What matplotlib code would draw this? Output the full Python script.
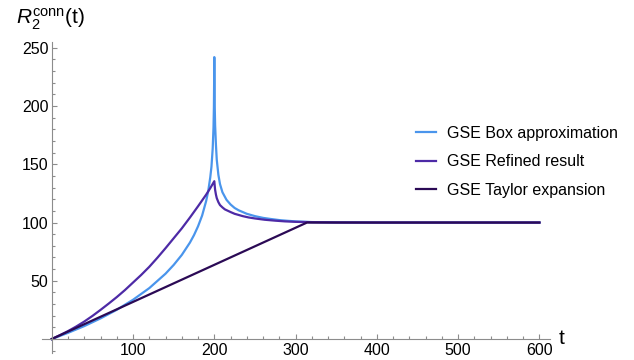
import matplotlib
matplotlib.use("Agg")
import matplotlib.pyplot as plt
from matplotlib.ticker import MultipleLocator

plt.rcParams['font.family'] = ['Liberation Sans', 'DejaVu Sans']
plt.rcParams['mathtext.fontset'] = 'custom'
plt.rcParams['mathtext.rm'] = 'Liberation Sans'
plt.rcParams['mathtext.it'] = 'Liberation Sans:italic'

# values
box_t = [0, 20, 40, 60, 80, 100, 120, 140, 150, 160, 170, 175, 180, 185, 190,
         192.5, 195, 196.5, 198, 199, 199.5, 199.8, 199.91,
         200.09, 200.2, 200.5, 201, 202, 203, 205, 207, 210, 215, 220, 225,
         230, 240, 250, 260, 270, 280, 290, 300, 320, 350, 400, 600]
box_r = [0, 5.3, 11.1, 17.7, 25.1, 33.7, 43.7, 56.1, 63.6, 72.2, 82.8, 89.2,
         96.8, 106, 118.6, 127, 138.7, 148, 163.5, 181.5, 199, 222.5, 242,
         242, 222.9, 200.3, 183.4, 166.8, 154, 141, 133, 126, 119.5, 115.5,
         112.5, 110.5, 107.5, 105.5, 104, 103, 102.1, 101.5, 101, 100.4,
         100.1, 100, 100]

ref_t = [0, 10, 20, 30, 40, 50, 60, 70, 80, 90, 100, 110, 120, 130, 140, 150,
         160, 170, 180, 185, 190, 195, 200, 200.5, 201, 202, 203, 205, 207,
         210, 213, 220, 225, 235, 242, 250, 262, 275, 287, 300, 320, 350, 400,
         600]
ref_r = [0, 3.3, 6.8, 10.7, 15, 19.8, 25, 30.4, 36, 42, 48.5, 55, 62, 69.8,
         78, 86.5, 95, 104.3, 114, 119, 124, 129.5, 135.5, 131.5, 128, 124,
         121, 117.5, 115, 113, 111.3, 109, 107.5, 105.5, 104.4, 103.5, 102.4,
         101.6, 101, 100.6, 100.3, 100.1, 100, 100]

tay_t = [0, 314, 600]
tay_r = [0, 100, 100]

labels = ['GSE Box approximation', 'GSE Refined result', 'GSE Taylor expansion']
colors = ['#4a95ec', '#4d2aa6', '#2b0a55']

fig = plt.figure(figsize=(6.34, 3.6), dpi=100)
ax = fig.add_axes([42 / 634, 7 / 360, 508 / 634, 311 / 360])

ax.plot(box_t, box_r, color=colors[0], lw=1.6, label=labels[0])
ax.plot(ref_t, ref_r, color=colors[1], lw=1.6, label=labels[1])
ax.plot(tay_t, tay_r, color=colors[2], lw=1.6, label=labels[2])

ax.set_xlim(-12, 613)
ax.set_ylim(-12, 255)

# axes crossing at the origin, Mathematica style
for side in ['top', 'right']:
    ax.spines[side].set_visible(False)
for side in ['left', 'bottom']:
    ax.spines[side].set_position(('data', 0))
    ax.spines[side].set_color('#8c8c8c')
    ax.spines[side].set_linewidth(0.8)
ax.spines['left'].set_bounds(-12, 255)
ax.spines['bottom'].set_bounds(-12, 613)

ax.xaxis.set_minor_locator(MultipleLocator(20))
ax.yaxis.set_minor_locator(MultipleLocator(10))
ax.set_xticks([100, 200, 300, 400, 500, 600])
ax.set_yticks([50, 100, 150, 200, 250])
ax.tick_params(which='both', direction='in', color='#8c8c8c', width=0.8, labelsize=11.5)
ax.tick_params(which='major', length=3.8)
ax.tick_params(which='minor', length=2.2)
ax.tick_params(axis='x', pad=3)
ax.tick_params(axis='y', pad=2.5)

fig.text(559 / 634, 1 - 339 / 360, 't', fontsize=15, va='center', ha='left')
fig.text(16 / 634, 1 - 24 / 360, r'$R_2^{\mathrm{conn}}$(t)', fontsize=15,
         va='baseline', ha='left')

fig.legend(loc='center left', bbox_to_anchor=(416 / 634, 1 - 161.7 / 360),
           frameon=False, fontsize=11.5, handlelength=1.25, handletextpad=0.69,
           labelspacing=0.84, borderpad=0, borderaxespad=0)

fig.savefig('out.png', dpi=100)
